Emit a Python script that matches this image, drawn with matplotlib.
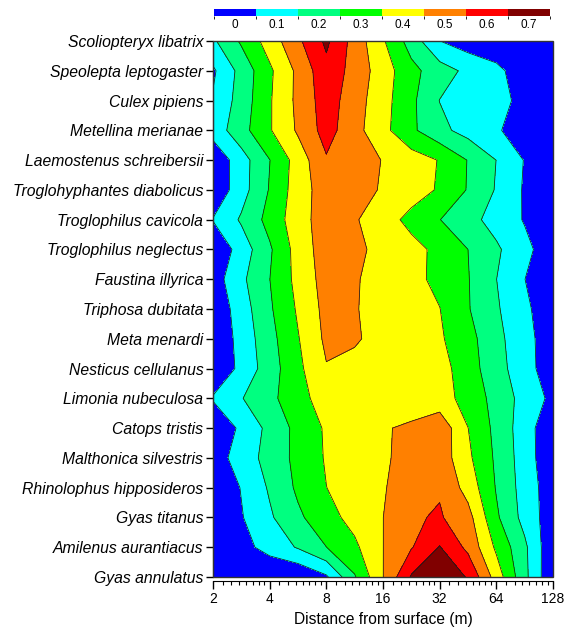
import numpy as np
import matplotlib
matplotlib.use("Agg")
import matplotlib.pyplot as plt
from matplotlib.colors import ListedColormap, BoundaryNorm
from matplotlib.patches import Rectangle

plt.rcParams["font.family"] = ["Liberation Sans", "DejaVu Sans"]

# species, listed top to bottom
species = [
    "Scoliopteryx libatrix",
    "Speolepta leptogaster",
    "Culex pipiens",
    "Metellina merianae",
    "Laemostenus schreibersii",
    "Troglohyphantes diabolicus",
    "Troglophilus cavicola",
    "Troglophilus neglectus",
    "Faustina illyrica",
    "Triphosa dubitata",
    "Meta menardi",
    "Nesticus cellulanus",
    "Limonia nubeculosa",
    "Catops tristis",
    "Malthonica silvestris",
    "Rhinolophus hipposideros",
    "Gyas titanus",
    "Amilenus aurantiacus",
    "Gyas annulatus",
]

# sampling distances (m), half-octave steps
distances = [2, 2.83, 4, 5.66, 8, 11.31, 16, 22.63, 32, 45.25, 64, 90.51, 128]

# one row per species, one value per distance
proportion = [
    [0.133, 0.264, 0.395, 0.530, 0.670, 0.510, 0.361, 0.206, 0.051, 0.000, 0.000, 0.000, 0.000],
    [0.034, 0.184, 0.332, 0.473, 0.620, 0.512, 0.399, 0.280, 0.194, 0.127, 0.068, 0.010, 0.000],
    [0.060, 0.193, 0.340, 0.474, 0.600, 0.495, 0.387, 0.272, 0.148, 0.110, 0.071, 0.032, 0.000],
    [0.091, 0.213, 0.341, 0.464, 0.590, 0.484, 0.379, 0.269, 0.177, 0.113, 0.060, 0.007, 0.000],
    [-0.03, 0.107, 0.248, 0.394, 0.540, 0.520, 0.444, 0.396, 0.345, 0.246, 0.149, 0.045, -0.03],
    [-0.03, 0.109, 0.257, 0.401, 0.500, 0.490, 0.440, 0.392, 0.340, 0.243, 0.142, 0.039, -0.03],
    [0.055, 0.163, 0.284, 0.408, 0.500, 0.460, 0.392, 0.322, 0.252, 0.183, 0.113, 0.043, 0.000],
    [-0.04, 0.095, 0.236, 0.391, 0.500, 0.470, 0.424, 0.380, 0.326, 0.250, 0.166, 0.077, -0.01],
    [0.000, 0.129, 0.249, 0.381, 0.490, 0.458, 0.417, 0.377, 0.326, 0.255, 0.151, 0.051, -0.02],
    [-0.03, 0.102, 0.236, 0.363, 0.480, 0.455, 0.421, 0.387, 0.352, 0.257, 0.162, 0.072, -0.02],
    [-0.04, 0.087, 0.216, 0.344, 0.470, 0.458, 0.426, 0.395, 0.363, 0.285, 0.178, 0.085, -0.01],
    [-0.04, 0.077, 0.203, 0.327, 0.444, 0.430, 0.415, 0.400, 0.390, 0.295, 0.189, 0.090, -0.01],
    [0.060, 0.145, 0.225, 0.312, 0.400, 0.420, 0.420, 0.410, 0.390, 0.316, 0.214, 0.114, 0.025],
    [-0.04, 0.071, 0.178, 0.280, 0.363, 0.400, 0.444, 0.462, 0.520, 0.351, 0.223, 0.097, -0.03],
    [0.000, 0.095, 0.187, 0.278, 0.359, 0.398, 0.438, 0.480, 0.510, 0.370, 0.233, 0.101, -0.03],
    [-0.04, 0.055, 0.162, 0.268, 0.349, 0.397, 0.444, 0.490, 0.540, 0.412, 0.243, 0.108, -0.01],
    [-0.04, 0.043, 0.136, 0.232, 0.313, 0.384, 0.449, 0.538, 0.560, 0.487, 0.266, 0.116, -0.01],
    [-0.04, 0.016, 0.087, 0.159, 0.249, 0.330, 0.449, 0.543, 0.655, 0.525, 0.332, 0.170, -0.034],
    [-0.04, -0.04, -0.04, -0.04, 0.035, 0.241, 0.448, 0.660, 0.740, 0.640, 0.406, 0.177, -0.04],
]

level_ticks = [0, 0.1, 0.2, 0.3, 0.4, 0.5, 0.6, 0.7]
level_colors = ["#0000ff", "#00ffff", "#00ff80", "#00ff00",
                "#ffff00", "#ff8000", "#ff0000", "#800000"]
x_ticks = [2, 4, 8, 16, 32, 64, 128]

bounds = [t - 0.05 for t in level_ticks] + [level_ticks[-1] + 0.05]
cmap = ListedColormap(level_colors)
norm = BoundaryNorm(bounds, cmap.N)

fig = plt.figure(figsize=(5.64, 6.33), dpi=100)
ax = fig.add_axes([213 / 564, 1 - 577 / 633, 340 / 564, 536 / 633])

# contour in log2 space so the distance axis is evenly spaced per octave
u = np.log2(distances)
yy = np.arange(len(species))
Z = np.array(proportion)[::-1]

cs = ax.contourf(u, yy, Z, levels=bounds, cmap=cmap, norm=norm)
ax.contour(u, yy, Z, levels=bounds[1:-1], colors="#1a1a1a", linewidths=0.55)

ax.set_xlim(np.log2(x_ticks[0]), np.log2(x_ticks[-1]))
ax.set_ylim(0, len(species) - 1)

ax.set_xticks(np.log2(x_ticks))
ax.set_xticklabels([str(t) for t in x_ticks], fontsize=11)
minor = [b * s for b in x_ticks[:-1] for s in np.arange(1.125, 2, 0.125)]
ax.set_xticks(np.log2(minor), minor=True)
ax.set_yticks(yy)
ax.set_yticklabels(species[::-1], fontsize=11.3, style="italic")

ax.spines["bottom"].set_position(("outward", 3))
ax.spines["top"].set_visible(False)
ax.spines["right"].set_visible(False)
ax.add_patch(Rectangle((0, 0), 1, 1, transform=ax.transAxes, fill=False,
                       ec="#333333", lw=1.0, zorder=5, clip_on=False))
ax.tick_params(axis="x", which="major", length=6, width=1, pad=2)
ax.tick_params(axis="x", which="minor", length=3, width=0.8)
ax.tick_params(axis="y", length=5, width=1, pad=2)
ax.set_xlabel("Distance from surface (m)", fontsize=11.2, labelpad=4)

cax = fig.add_axes([214 / 564, 1 - 16 / 633, 336 / 564, 7 / 633])
cb = fig.colorbar(cs, cax=cax, orientation="horizontal", ticks=level_ticks)
cb.outline.set_visible(False)
cb.ax.set_xticklabels([f"{t:g}" for t in level_ticks])
cb.ax.tick_params(length=0, labelsize=8.5, pad=2)

fig.savefig("out.png", dpi=100)
